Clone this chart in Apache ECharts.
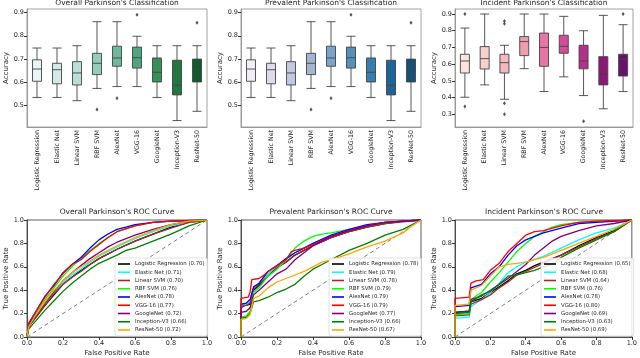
<!DOCTYPE html>
<html>
<head>
    <meta charset="UTF-8">
    <title>parkinson</title>
    <script src="https://cdn.jsdelivr.net/npm/echarts@6/dist/echarts.min.js"></script>
    <style>
        *{margin:0;padding:0}
        html,body{width:100%;height:100%;background:#fff}
        #main{width:640px;height:358px}
    </style>
</head>
<body>
    <div id="main"></div>
    <script type="text/javascript">
        var models = ['Logistic Regression','Elastic Net','Linear SVM','RBF SVM','AlexNet','VGG-16','GoogleNet','Inception-V3','ResNet-50'];
        var rocColors = ['#000000','#00ffff','#a52a2a','#00ff00','#0000ff','#ff0000','#800080','#008000','#ffa500'];

        // box colors (seaborn-ish BuGn / PuBu / RdPu, desaturated)
        var greens = ['#e9f5f7','#d3ebe8','#b9e0d8','#95cdbd','#6cb99d','#4fa67c','#37905a','#21773f','#0f5b2e'];
        var blues  = ['#f1eff5','#dedbea','#c3c9df','#a2b6d3','#7ca4c8','#5591bd','#3580b0','#1b6697','#16517a'];
        var pinks  = ['#fbe4e1','#f8d0cb','#f4b8be','#ef9cb2','#e677a4','#d24f97','#b3308b','#8d1677','#67136b'];

        // [min, Q1, median, Q3, max]
        var boxOverall = [
            [0.533,0.603,0.656,0.696,0.747],
            [0.533,0.592,0.653,0.681,0.747],
            [0.519,0.587,0.639,0.688,0.757],
            [0.572,0.632,0.681,0.724,0.861],
            [0.580,0.668,0.704,0.755,0.861],
            [0.580,0.660,0.705,0.751,0.798],
            [0.533,0.600,0.642,0.704,0.757],
            [0.433,0.544,0.586,0.694,0.757],
            [0.473,0.600,0.653,0.699,0.757]
        ];
        var outOverall = [[3,0.481],[4,0.530],[5,0.891],[8,0.856]];
        var boxPrevalent = [
            [0.533,0.603,0.656,0.696,0.747],
            [0.533,0.592,0.653,0.681,0.747],
            [0.519,0.587,0.639,0.688,0.757],
            [0.572,0.632,0.681,0.724,0.861],
            [0.580,0.668,0.704,0.755,0.861],
            [0.580,0.660,0.705,0.751,0.798],
            [0.533,0.600,0.642,0.704,0.757],
            [0.433,0.544,0.586,0.694,0.757],
            [0.473,0.600,0.653,0.699,0.757]
        ];
        var outPrevalent = [[3,0.481],[4,0.530],[5,0.891],[8,0.856]];
        var boxIncident = [
            [0.402,0.547,0.619,0.659,0.816],
            [0.476,0.571,0.633,0.705,0.900],
            [0.390,0.547,0.609,0.659,0.713],
            [0.573,0.651,0.735,0.765,0.900],
            [0.436,0.587,0.700,0.786,0.900],
            [0.524,0.665,0.707,0.773,0.886],
            [0.412,0.572,0.619,0.713,0.800],
            [0.333,0.476,0.543,0.645,0.892],
            [0.436,0.529,0.629,0.659,0.836]
        ];
        var outIncident = [[0,0.900],[0,0.346],[2,0.858],[2,0.842],[2,0.366],[2,0.300],[6,0.259],[8,0.900]];

        var aucOverall   = ['0.70','0.71','0.70','0.76','0.78','0.77','0.72','0.66','0.72'];
        var aucPrevalent = ['0.78','0.79','0.78','0.79','0.79','0.79','0.77','0.66','0.67'];
        var aucIncident  = ['0.65','0.68','0.64','0.76','0.78','0.80','0.69','0.63','0.69'];

        var rocOverall = [
            [[0,0],[0.01,0.09],[0.05,0.17],[0.1,0.27],[0.15,0.36],[0.2,0.45],[0.25,0.51],[0.3,0.57],[0.35,0.62],[0.4,0.67],[0.5,0.75],[0.6,0.82],[0.7,0.88],[0.8,0.94],[0.9,0.98],[1,1]],
            [[0,0],[0.01,0.1],[0.05,0.19],[0.1,0.29],[0.15,0.38],[0.2,0.46],[0.25,0.53],[0.3,0.58],[0.35,0.64],[0.4,0.69],[0.5,0.77],[0.6,0.84],[0.7,0.9],[0.8,0.95],[0.9,0.98],[1,1]],
            [[0,0],[0.01,0.09],[0.05,0.17],[0.1,0.27],[0.15,0.37],[0.2,0.45],[0.25,0.51],[0.3,0.56],[0.35,0.62],[0.4,0.67],[0.5,0.75],[0.6,0.82],[0.7,0.88],[0.8,0.93],[0.9,0.98],[1,1]],
            [[0,0],[0.01,0.1],[0.05,0.2],[0.1,0.32],[0.15,0.42],[0.2,0.52],[0.25,0.6],[0.3,0.67],[0.35,0.74],[0.4,0.8],[0.45,0.85],[0.5,0.9],[0.6,0.95],[0.7,0.98],[0.8,0.99],[1,1]],
            [[0,0],[0.01,0.11],[0.05,0.22],[0.1,0.35],[0.15,0.44],[0.2,0.55],[0.25,0.62],[0.3,0.68],[0.35,0.76],[0.4,0.83],[0.45,0.88],[0.5,0.92],[0.55,0.94],[0.6,0.96],[0.7,0.98],[0.8,0.99],[1,1]],
            [[0,0],[0.01,0.12],[0.05,0.22],[0.1,0.34],[0.15,0.45],[0.2,0.54],[0.25,0.62],[0.3,0.66],[0.35,0.73],[0.4,0.79],[0.45,0.85],[0.5,0.9],[0.6,0.95],[0.7,0.98],[0.8,0.99],[1,1]],
            [[0,0],[0.01,0.09],[0.05,0.18],[0.1,0.29],[0.15,0.39],[0.2,0.48],[0.25,0.55],[0.3,0.61],[0.35,0.67],[0.4,0.72],[0.45,0.77],[0.5,0.81],[0.6,0.87],[0.7,0.92],[0.8,0.96],[0.9,0.99],[1,1]],
            [[0,0],[0.01,0.07],[0.05,0.14],[0.1,0.23],[0.15,0.31],[0.2,0.39],[0.25,0.46],[0.3,0.52],[0.35,0.58],[0.4,0.63],[0.5,0.7],[0.55,0.74],[0.6,0.76],[0.7,0.82],[0.8,0.88],[0.9,0.95],[1,1]],
            [[0,0],[0.01,0.09],[0.05,0.19],[0.1,0.3],[0.15,0.4],[0.2,0.48],[0.25,0.55],[0.3,0.6],[0.35,0.65],[0.4,0.7],[0.5,0.78],[0.6,0.85],[0.7,0.91],[0.8,0.96],[0.9,0.99],[1,1]]
        ];
        var rocPrevalent = [
            [[0,0],[0,0.25],[0.02,0.27],[0.05,0.28],[0.07,0.4],[0.1,0.44],[0.15,0.52],[0.2,0.6],[0.25,0.64],[0.3,0.7],[0.35,0.74],[0.4,0.78],[0.5,0.85],[0.6,0.9],[0.7,0.94],[0.8,0.97],[0.9,0.99],[1,1]],
            [[0,0],[0,0.27],[0.03,0.28],[0.05,0.3],[0.07,0.42],[0.1,0.46],[0.15,0.54],[0.2,0.6],[0.25,0.66],[0.3,0.72],[0.35,0.76],[0.4,0.8],[0.5,0.86],[0.6,0.91],[0.7,0.95],[0.8,0.98],[1,1]],
            [[0,0],[0,0.26],[0.03,0.27],[0.05,0.29],[0.07,0.41],[0.1,0.45],[0.15,0.52],[0.2,0.59],[0.25,0.64],[0.3,0.7],[0.35,0.74],[0.4,0.78],[0.5,0.85],[0.6,0.9],[0.7,0.94],[0.8,0.97],[1,1]],
            [[0,0],[0,0.17],[0.03,0.18],[0.05,0.22],[0.07,0.38],[0.1,0.42],[0.15,0.52],[0.2,0.58],[0.25,0.66],[0.3,0.76],[0.35,0.82],[0.4,0.86],[0.45,0.88],[0.5,0.89],[0.6,0.92],[0.7,0.95],[0.8,0.98],[1,1]],
            [[0,0],[0,0.28],[0.03,0.29],[0.05,0.32],[0.07,0.43],[0.1,0.46],[0.15,0.56],[0.2,0.61],[0.25,0.67],[0.3,0.72],[0.35,0.76],[0.4,0.8],[0.5,0.87],[0.6,0.92],[0.7,0.96],[0.8,0.98],[1,1]],
            [[0,0],[0,0.33],[0.04,0.34],[0.05,0.38],[0.06,0.49],[0.1,0.5],[0.12,0.52],[0.15,0.56],[0.2,0.61],[0.25,0.66],[0.28,0.73],[0.3,0.74],[0.35,0.76],[0.4,0.79],[0.5,0.86],[0.6,0.91],[0.7,0.95],[0.8,0.98],[1,1]],
            [[0,0],[0,0.21],[0.03,0.22],[0.05,0.25],[0.07,0.36],[0.1,0.4],[0.15,0.47],[0.2,0.54],[0.25,0.58],[0.3,0.66],[0.35,0.72],[0.4,0.78],[0.5,0.86],[0.6,0.91],[0.7,0.95],[0.8,0.98],[1,1]],
            [[0,0],[0,0.16],[0.03,0.17],[0.05,0.2],[0.07,0.3],[0.1,0.31],[0.15,0.34],[0.2,0.38],[0.25,0.41],[0.3,0.45],[0.35,0.52],[0.4,0.58],[0.45,0.62],[0.5,0.66],[0.6,0.74],[0.7,0.8],[0.8,0.87],[0.9,0.92],[1,1]],
            [[0,0],[0,0.15],[0.03,0.16],[0.05,0.19],[0.07,0.33],[0.1,0.35],[0.15,0.42],[0.2,0.47],[0.25,0.5],[0.3,0.53],[0.35,0.56],[0.4,0.6],[0.45,0.64],[0.5,0.66],[0.6,0.71],[0.7,0.77],[0.8,0.82],[0.9,0.89],[0.95,0.95],[1,1]]
        ];
        var rocIncident = [
            [[0,0],[0,0.21],[0.08,0.22],[0.09,0.3],[0.15,0.33],[0.2,0.38],[0.25,0.43],[0.3,0.48],[0.35,0.54],[0.4,0.57],[0.45,0.61],[0.5,0.64],[0.6,0.7],[0.7,0.78],[0.8,0.85],[0.9,0.91],[1,1]],
            [[0,0],[0,0.16],[0.08,0.17],[0.09,0.26],[0.15,0.32],[0.2,0.38],[0.25,0.46],[0.3,0.55],[0.35,0.6],[0.4,0.64],[0.5,0.69],[0.6,0.76],[0.7,0.83],[0.8,0.89],[0.9,0.93],[1,1]],
            [[0,0],[0,0.18],[0.08,0.19],[0.09,0.28],[0.15,0.32],[0.2,0.36],[0.25,0.42],[0.3,0.47],[0.35,0.53],[0.4,0.56],[0.5,0.63],[0.6,0.7],[0.7,0.77],[0.8,0.84],[0.9,0.9],[1,1]],
            [[0,0],[0,0.19],[0.08,0.2],[0.09,0.32],[0.15,0.38],[0.2,0.47],[0.25,0.55],[0.3,0.64],[0.35,0.73],[0.4,0.8],[0.45,0.86],[0.5,0.9],[0.55,0.94],[0.6,0.96],[0.7,0.98],[0.8,0.99],[1,1]],
            [[0,0],[0,0.26],[0.08,0.27],[0.09,0.42],[0.15,0.45],[0.2,0.54],[0.25,0.6],[0.3,0.7],[0.35,0.78],[0.4,0.83],[0.45,0.86],[0.5,0.89],[0.6,0.93],[0.7,0.97],[0.8,0.98],[1,1]],
            [[0,0],[0,0.33],[0.08,0.34],[0.09,0.46],[0.12,0.48],[0.16,0.49],[0.2,0.57],[0.25,0.63],[0.3,0.73],[0.35,0.8],[0.4,0.87],[0.45,0.9],[0.5,0.91],[0.6,0.95],[0.7,0.98],[0.8,0.99],[1,1]],
            [[0,0],[0,0.21],[0.08,0.22],[0.09,0.32],[0.15,0.35],[0.2,0.4],[0.25,0.45],[0.3,0.5],[0.35,0.56],[0.4,0.62],[0.45,0.7],[0.5,0.76],[0.55,0.82],[0.6,0.86],[0.7,0.91],[0.8,0.95],[0.9,0.97],[1,1]],
            [[0,0],[0,0.2],[0.08,0.21],[0.09,0.3],[0.15,0.36],[0.2,0.39],[0.25,0.45],[0.3,0.52],[0.35,0.53],[0.4,0.55],[0.45,0.57],[0.5,0.6],[0.55,0.62],[0.6,0.68],[0.7,0.76],[0.8,0.83],[0.9,0.9],[1,1]],
            [[0,0],[0,0.27],[0.08,0.28],[0.09,0.4],[0.15,0.44],[0.2,0.52],[0.25,0.6],[0.3,0.62],[0.35,0.63],[0.4,0.64],[0.5,0.68],[0.6,0.74],[0.7,0.8],[0.8,0.86],[0.9,0.92],[1,1]]
        ];

        var font = 'DejaVu Sans';
        var txt = '#262626';
        var cols = [{left:27,width:180},{left:241,width:180},{left:455,width:178}];
        var boxTitles = ["Overall Parkinson's Classification","Prevalent Parkinson's Classification","Incident Parkinson's Classification"];
        var rocTitles = ["Overall Parkinson's ROC Curve","Prevalent Parkinson's ROC Curve","Incident Parkinson's ROC Curve"];
        var boxSets = [boxOverall, boxPrevalent, boxIncident];
        var outSets = [outOverall, outPrevalent, outIncident];
        var palettes = [greens, blues, pinks];
        var yRanges = [[0.405,0.916,[0.5,0.6,0.7,0.8,0.9]],[0.405,0.916,[0.5,0.6,0.7,0.8,0.9]],[0.224,0.93,[0.3,0.4,0.5,0.6,0.7,0.8,0.9]]];
        var rocSets = [rocOverall, rocPrevalent, rocIncident];
        var aucSets = [aucOverall, aucPrevalent, aucIncident];

        var grid = [], xAxis = [], yAxis = [], series = [], title = [], legend = [];
        var lbl = {fontFamily:font, fontSize:6.5, color:txt};
        function fmt1(v){ return v.toFixed(1); }

        for (var p = 0; p < 3; p++) {
            // top row: boxplots
            var t = grid.length;
            grid.push({left:cols[p].left, top:9, width:cols[p].width, height:118, show:true, borderColor:'#8a8a8a', borderWidth:0.8});
            title.push({text:boxTitles[p], left:cols[p].left + cols[p].width/2, textAlign:'center', top:-1, padding:0,
                textStyle:{fontFamily:font, fontSize:7.5, fontWeight:'normal', color:txt}});
            xAxis.push({type:'category', gridIndex:t, data:models, boundaryGap:true,
                axisLine:{lineStyle:{color:'#8a8a8a', width:0.8}},
                axisTick:{alignWithLabel:true, length:3, lineStyle:{color:'#333'}},
                axisLabel:{rotate:90, interval:0, margin:3, fontFamily:font, fontSize:6.3, color:txt}});
            yAxis.push({type:'value', gridIndex:t, min:yRanges[p][0], max:yRanges[p][1],
                name:'Accuracy', nameLocation:'middle', nameGap:17, nameRotate:90,
                nameTextStyle:{fontFamily:font, fontSize:7, color:txt},
                splitLine:{show:false},
                axisLine:{show:true, lineStyle:{color:'#8a8a8a', width:0.8}},
                axisTick:{show:true, length:3, customValues:yRanges[p][2], lineStyle:{color:'#333'}},
                axisLabel:Object.assign({customValues:yRanges[p][2], margin:3, formatter:fmt1}, lbl)});
            series.push({type:'boxplot', xAxisIndex:t, yAxisIndex:t, boxWidth:[9,9],
                itemStyle:{borderColor:'#444444', borderWidth:0.9},
                data:boxSets[p].map(function(b, i){ return {value:b, itemStyle:{color:palettes[p][i]}}; })});
            series.push({type:'scatter', xAxisIndex:t, yAxisIndex:t, symbol:'diamond', symbolSize:[3,4],
                itemStyle:{color:'#2a2a2a'}, data:outSets[p]});

            // bottom row: ROC curves
            var g = grid.length;
            grid.push({left:cols[p].left, top:220, width:cols[p].width, height:117, show:true, borderColor:'#333', borderWidth:0.8});
            title.push({text:rocTitles[p], left:cols[p].left + cols[p].width/2, textAlign:'center', top:208, padding:0,
                textStyle:{fontFamily:font, fontSize:7.5, fontWeight:'normal', color:txt}});
            xAxis.push({type:'value', gridIndex:g, min:0, max:1, interval:0.2,
                name:'False Positive Rate', nameLocation:'middle', nameGap:13,
                nameTextStyle:{fontFamily:font, fontSize:7, color:txt},
                splitLine:{show:false},
                axisLine:{lineStyle:{color:'#333', width:0.8}},
                axisTick:{length:3, lineStyle:{color:'#333'}},
                axisLabel:Object.assign({margin:3, formatter:fmt1}, lbl)});
            yAxis.push({type:'value', gridIndex:g, min:0, max:1, interval:0.2,
                name:'True Positive Rate', nameLocation:'middle', nameGap:17, nameRotate:90,
                nameTextStyle:{fontFamily:font, fontSize:7, color:txt},
                splitLine:{show:false},
                axisLine:{show:true, lineStyle:{color:'#333', width:0.8}},
                axisTick:{show:true, length:3, lineStyle:{color:'#333'}},
                axisLabel:Object.assign({margin:3, formatter:fmt1}, lbl)});
            series.push({type:'line', xAxisIndex:g, yAxisIndex:g, data:[[0,0],[1,1]], symbol:'none', silent:true,
                lineStyle:{color:'#808080', width:1, type:[4,3]}});
            var names = [];
            for (var m = 0; m < models.length; m++) {
                var nm = models[m] + ' (' + aucSets[p][m] + ')';
                names.push(nm);
                series.push({type:'line', name:nm, xAxisIndex:g, yAxisIndex:g, data:rocSets[p][m],
                    symbol:'none', showSymbol:false, color:rocColors[m],
                    lineStyle:{color:rocColors[m], width:1.3}});
            }
            legend.push({data:names, orient:'vertical', left:cols[p].left + cols[p].width - 92, top:258,
                icon:'rect', itemWidth:12, itemHeight:1.6, itemGap:2.25, padding:[3,3],
                backgroundColor:'rgba(255,255,255,0.85)', borderColor:'#cccccc', borderWidth:0.6, borderRadius:2,
                textStyle:{fontFamily:font, fontSize:5.4, lineHeight:6, color:txt}});
        }

        var myChart = echarts.init(document.getElementById('main'), null, {renderer:'canvas'});
        myChart.setOption({
            animation:false,
            backgroundColor:'#ffffff',
            title:title, grid:grid, xAxis:xAxis, yAxis:yAxis, legend:legend, series:series
        });
    </script>
</body>
</html>
